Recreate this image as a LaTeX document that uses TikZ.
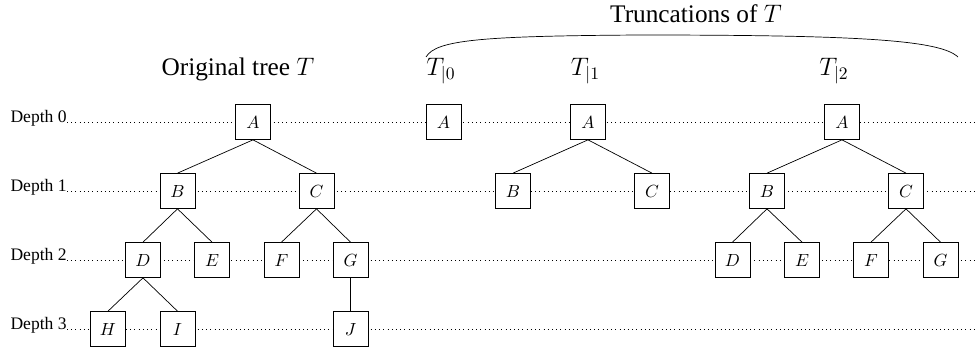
\documentclass[tikz,border=0pt]{standalone}
\usepackage{amsmath}
\usepackage{fontspec}
\setmainfont{Liberation Serif}
\usepackage{tikz}

\tikzstyle{sommet}=[draw, fill=white, minimum size=0.7cm, inner sep=0pt]
\tikzstyle{profondeur}=[anchor=base east, inner sep=0pt]
\tikzstyle{titre}=[anchor=base, inner sep=0pt, font=\Large]

\begin{document}
\begin{tikzpicture}
	\useasboundingbox (0,0) rectangle (19.52,-7.04);

% NIVEAUX

	\node[profondeur] (d0) at (1.34,-2.44) {Depth 0};
	\node[profondeur] (d1) at (1.34,-3.82) {Depth 1};
	\node[profondeur] (d2) at (1.34,-5.20) {Depth 2};
	\node[profondeur] (d3) at (1.34,-6.58) {Depth 3};

	\coordinate (f0) at (19.50,-2.44);
	\coordinate (f1) at (19.50,-3.82);
	\coordinate (f2) at (19.50,-5.20);
	\coordinate (f3) at (19.50,-6.58);

	\draw[dotted] (d0.base east) -- (f0);
	\draw[dotted] (d1.base east) -- (f1);
	\draw[dotted] (d2.base east) -- (f2);
	\draw[dotted] (d3.base east) -- (f3);

% ARBRE

	\node[titre] (orig) at (4.76,-1.50) {Original tree $T$};

	\node[sommet] (a) at (5.06,-2.44) {$A$};
	\node[sommet] (b) at (3.55,-3.82) {$B$};
	\node[sommet] (c) at (6.33,-3.82) {$C$};
	\node[sommet] (d) at (2.86,-5.20) {$D$};
	\node[sommet] (e) at (4.24,-5.20) {$E$};
	\node[sommet] (f) at (5.63,-5.20) {$F$};
	\node[sommet] (g) at (7.01,-5.20) {$G$};
	\node[sommet] (h) at (2.16,-6.58) {$H$};
	\node[sommet] (i) at (3.55,-6.58) {$I$};
	\node[sommet] (j) at (7.01,-6.58) {$J$};

	\draw (a.south) -- (b.north);
	\draw (a.south) -- (c.north);
	\draw (b.south) -- (d.north);
	\draw (b.south) -- (e.north);
	\draw (c.south) -- (f.north);
	\draw (c.south) -- (g.north);
	\draw (d.south) -- (h.north);
	\draw (d.south) -- (i.north);
	\draw (g.south) -- (j.north);

% TRONCATURES

	% accolade
	\draw (8.52,-1.14) .. controls (8.72,-0.80) and (9.60,-0.72) ..
		(12.80,-0.70) .. controls (17.20,-0.70) and (18.80,-0.80) ..
		(19.16,-1.14);

	\node[titre] (tronc) at (13.92,-0.454) {Truncations of $T$};

	% profondeur 0
	\node[titre] (t0) at (8.82,-1.50) {$T_{|0}$};
	\node[sommet] (a0) at (8.87,-2.44) {$A$};

	% profondeur 1
	\node[titre] (t1) at (11.71,-1.50) {$T_{|1}$};
	\node[sommet] (a1) at (11.76,-2.44) {$A$};
	\node[sommet] (b1) at (10.26,-3.82) {$B$};
	\node[sommet] (c1) at (13.04,-3.82) {$C$};

	\draw (a1.south) -- (b1.north);
	\draw (a1.south) -- (c1.north);

	% profondeur 2
	\node[titre] (t2) at (16.68,-1.50) {$T_{|2}$};
	\node[sommet] (a2) at (16.84,-2.44) {$A$};
	\node[sommet] (b2) at (15.34,-3.82) {$B$};
	\node[sommet] (c2) at (18.12,-3.82) {$C$};
	\node[sommet] (d2) at (14.65,-5.20) {$D$};
	\node[sommet] (e2) at (16.04,-5.20) {$E$};
	\node[sommet] (f2) at (17.42,-5.20) {$F$};
	\node[sommet] (g2) at (18.81,-5.20) {$G$};

	\draw (a2.south) -- (b2.north);
	\draw (a2.south) -- (c2.north);
	\draw (b2.south) -- (d2.north);
	\draw (b2.south) -- (e2.north);
	\draw (c2.south) -- (f2.north);
	\draw (c2.south) -- (g2.north);

\end{tikzpicture}
\end{document}
